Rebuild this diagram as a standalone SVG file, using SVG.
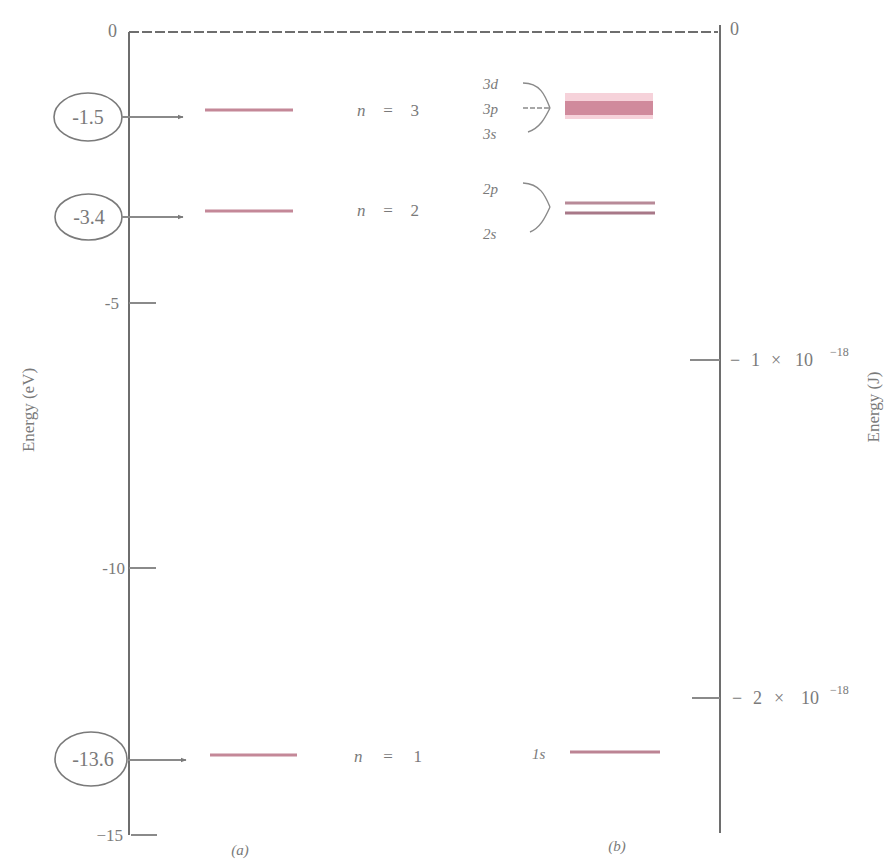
<svg xmlns="http://www.w3.org/2000/svg" width="891" height="861" viewBox="0 0 891 861">
<defs>
<style>
.t{font-family:"Liberation Serif","Times New Roman",serif;fill:#7a7a7a;}
.i{font-style:italic;}
.ax{stroke:#6e6e6e;stroke-width:2;fill:none;}
.tk{stroke:#8a8a8a;stroke-width:2;fill:none;}
.el{stroke:#7a7a7a;stroke-width:1.6;fill:none;}
.br{stroke:#8a8a8a;stroke-width:1.4;fill:none;}
.lv{stroke:#c48898;stroke-width:3;}
</style>
<marker id="ah" viewBox="0 0 10 10" refX="9" refY="5" markerWidth="6" markerHeight="6" orient="auto" markerUnits="userSpaceOnUse">
<path d="M0,1 L10,5 L0,9 z" fill="#7a7a7a"/>
</marker>
</defs>
<rect width="891" height="861" fill="#ffffff"/>

<g id="axis-left">
<line class="ax" x1="129" y1="32" x2="129" y2="835"/>
<line class="ax" x1="129" y1="32" x2="718" y2="32" stroke-dasharray="10,3" stroke="#9a9a9a"/>
<text class="t" x="117" y="37" font-size="18" text-anchor="end">0</text>
<line class="tk" x1="129" y1="303" x2="156" y2="303"/>
<text class="t" x="119" y="309" font-size="17" text-anchor="end">-5</text>
<line class="tk" x1="129" y1="568" x2="156" y2="568"/>
<text class="t" x="125" y="574" font-size="17" text-anchor="end">-10</text>
<line class="tk" x1="131" y1="835" x2="157" y2="835"/>
<text class="t" x="123" y="841" font-size="17" text-anchor="end">−15</text>
<text class="t" font-size="17" text-anchor="middle" transform="translate(34,410) rotate(-90)">Energy (eV)</text>
</g>

<g id="axis-right">
<line class="ax" x1="720" y1="25" x2="720" y2="833"/>
<text class="t" x="730" y="35" font-size="18">0</text>
<line class="tk" x1="690" y1="360" x2="720" y2="360"/>
<text class="t" y="366" font-size="18"><tspan x="730">−</tspan><tspan x="751">1</tspan><tspan x="771">×</tspan><tspan x="795">10</tspan><tspan x="830" font-size="12" dy="-10">−18</tspan></text>
<line class="tk" x1="692" y1="698" x2="720" y2="698"/>
<text class="t" y="704" font-size="18"><tspan x="732">−</tspan><tspan x="753">2</tspan><tspan x="774">×</tspan><tspan x="801">10</tspan><tspan x="830" font-size="12" dy="-10">−18</tspan></text>
<text class="t" font-size="17" text-anchor="middle" transform="translate(879,407) rotate(-90)">Energy (J)</text>
</g>

<g id="value-m1.5">
<ellipse class="el" cx="88" cy="117" rx="34" ry="24"/>
<text class="t" x="88" y="124" font-size="20" text-anchor="middle">-1.5</text>
</g>
<g id="value-m3.4">
<ellipse class="el" cx="88.5" cy="217" rx="33.5" ry="23"/>
<text class="t" x="89" y="224" font-size="20" text-anchor="middle">-3.4</text>
</g>
<g id="value-m13.6">
<ellipse class="el" cx="91" cy="759" rx="36" ry="27"/>
<text class="t" x="93" y="766" font-size="20" text-anchor="middle">-13.6</text>
</g>

<g id="levels-a">
<line class="lv" x1="205" y1="110" x2="293" y2="110"/>
<line class="lv" x1="205" y1="211" x2="293" y2="211"/>
<line class="lv" x1="210" y1="755" x2="297" y2="755" stroke="#8c7078"/>
<text class="t" x="357" y="116" font-size="17" textLength="62" lengthAdjust="spacing"><tspan class="i">n</tspan> = 3</text>
<text class="t" x="357" y="216" font-size="17" textLength="62" lengthAdjust="spacing"><tspan class="i">n</tspan> = 2</text>
<text class="t" x="354" y="762" font-size="17" textLength="68" lengthAdjust="spacing"><tspan class="i">n</tspan> = 1</text>
<text class="t i" x="240" y="855" font-size="15" text-anchor="middle">(a)</text>
</g>

<g id="levels-b">
<text class="t i" x="483" y="89" font-size="15">3d</text>
<text class="t i" x="483" y="114" font-size="15">3p</text>
<text class="t i" x="483" y="139" font-size="15">3s</text>
<rect x="565" y="93" width="88" height="26" fill="#f6d2da"/>
<rect x="565" y="101" width="88" height="14" fill="#d08a9c"/>
<text class="t i" x="483" y="194" font-size="15">2p</text>
<text class="t i" x="483" y="239" font-size="15">2s</text>
<line x1="565" y1="203" x2="655" y2="203" stroke="#b88a98" stroke-width="3"/>
<line x1="565" y1="213" x2="655" y2="213" stroke="#a87888" stroke-width="3"/>
<text class="t i" x="532" y="759" font-size="15">1s</text>
<line x1="570" y1="752" x2="660" y2="752" stroke="#bc8494" stroke-width="3"/>
<text class="t i" x="617" y="851" font-size="15" text-anchor="middle">(b)</text>
</g>

<g id="connectors">
<line class="tk" x1="122" y1="117" x2="183" y2="117" marker-end="url(#ah)"/>
<line class="tk" x1="122" y1="217" x2="183" y2="217" marker-end="url(#ah)"/>
<line class="tk" x1="128" y1="760" x2="186" y2="760" marker-end="url(#ah)" stroke-width="3"/>
<path class="br" d="M523,83 C540,83 545,95 550,108"/>
<path class="br" d="M528,132 C540,128 545,118 550,108"/>
<line class="br" x1="523" y1="108" x2="550" y2="108" stroke-dasharray="5,2"/>
<path class="br" d="M523,183 C540,184 545,195 550,207"/>
<path class="br" d="M530,232 C540,228 545,218 550,207"/>
</g>
</svg>
